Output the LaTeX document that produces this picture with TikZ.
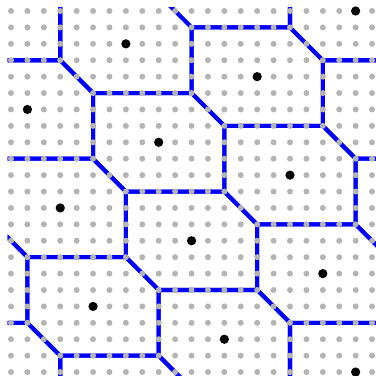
\documentclass[tikz,border=0pt]{standalone}
\definecolor{dotgray}{RGB}{180,180,180}
\definecolor{cellblue}{RGB}{0,0,255}
\tikzset{
  celledge/.style={draw=cellblue, line width=3.5pt, line join=round},
  griddot/.style={fill=dotgray},
  latticept/.style={fill=black}
}
\begin{document}
\begin{tikzpicture}[x=0.5cm,y=-0.5cm]
\useasboundingbox (-0.67,-0.67) rectangle (22.24,22.24);
\begin{scope}
\clip (-0.2,-0.22) rectangle (22.4,22.4);
\foreach \m in {-3,...,3} {
  \foreach \n in {-4,...,2} {
    \pgfmathsetmacro\cx{5+8*\m+2*\n}
    \pgfmathsetmacro\cy{18+2*\m+6*\n}
    \draw[celledge] (\cx,\cy) ++(-4,-3) -- ++(6,0) -- ++(2,2) -- ++(0,4) -- ++(-6,0) -- ++(-2,-2) -- cycle;
  }
}
\end{scope}
\foreach \i in {0,...,22} {
  \foreach \j in {0,...,22} {
    \fill[griddot] (\i,\j) circle (2.6pt);
  }
}
\foreach \p in {(7,2),(15,4),(1,6),(9,8),(17,10),(3,12),(11,14),(19,16),(5,18),(13,20),(21,22),(21,0)} {
  \fill[latticept] \p circle (4pt);
}
\end{tikzpicture}
\end{document}
